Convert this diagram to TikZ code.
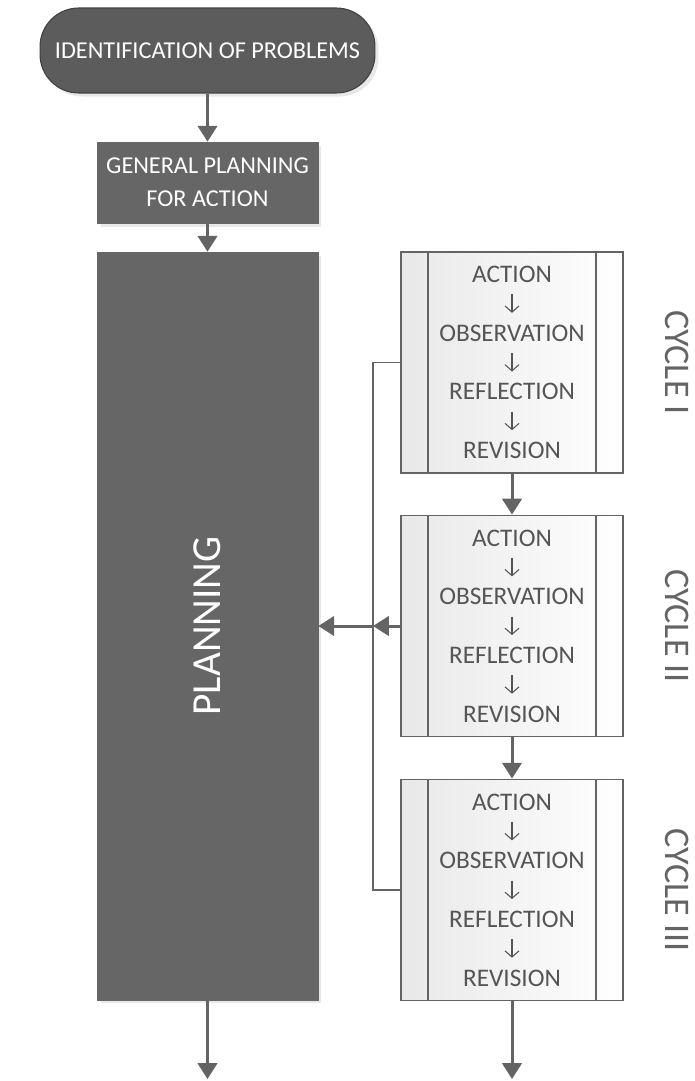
\documentclass[tikz,border=0pt]{standalone}
\usepackage{fontspec}
\setmainfont{Carlito}
\usepackage{tikz}
\usetikzlibrary{positioning,arrows.meta,shapes,calc,shadows}
\definecolor{darkbox}{RGB}{102,102,102}
\definecolor{termbox}{RGB}{92,92,92}
\definecolor{lineclr}{RGB}{100,100,100}
\definecolor{textclr}{RGB}{85,85,85}

\newcommand{\dnarrow}{\tikz[baseline=0pt]\draw[textclr,line width=0.6pt,
  -{Straight Barb[length=3.5pt,width=8pt]}] (0pt,10pt) -- (0pt,-0.5pt);}

\tikzset{
  darknode/.style={draw=darkbox,fill=darkbox,text=white,align=center,
        inner sep=0pt,drop shadow={opacity=0.18,shadow xshift=2pt,shadow yshift=-2pt}},
  cyclebox/.style={draw=lineclr,line width=1.1pt,left color=gray!18,right color=white,
        text=textclr,align=center,inner sep=0pt,minimum width=4.44cm,minimum height=4.42cm,
        font=\fontsize{14.4}{16.7}\selectfont},
  cyclelabel/.style={text=lineclr,rotate=-90,font=\fontsize{20.5}{24}\selectfont},
  flow/.style={draw=lineclr,line width=1.7pt,-{Triangle[width=11pt,length=9pt]}},
  loopline/.style={draw=lineclr,line width=1.1pt}
}

\begin{document}
\begin{tikzpicture}[x=0.02cm,y=-0.02cm]
  \useasboundingbox (0,0) rectangle (695,1081);

  % left column
  \node[darknode,draw=termbox!70!black,fill=termbox,rounded corners=22pt,line width=0.6pt,
        minimum width=6.7cm,minimum height=1.7cm,font=\fontsize{13.8}{17}\selectfont]
        (problems) at (207.5,50.5) {IDENTIFICATION OF PROBLEMS};
  \node[darknode,minimum width=4.42cm,minimum height=1.62cm,
        font=\fontsize{13.8}{19}\selectfont]
        (general) at (207.5,182.5) {GENERAL PLANNING\\FOR ACTION};
  \node[darknode,minimum width=4.42cm,minimum height=14.96cm]
        (planning) at (207.5,626) {};
  \node[text=white,rotate=90,font=\fontsize{23.5}{28}\selectfont] (planlabel) at (planning.center) {PLANNING};

  % cycles
  \foreach \cyc/\ypos/\lbl in {c1/362.5/I, c2/626/II, c3/890/III} {
    \node[cyclebox] (\cyc) at (512,\ypos)
      {ACTION\\\dnarrow\\OBSERVATION\\\dnarrow\\REFLECTION\\\dnarrow\\REVISION};
    \draw[loopline] ($(\cyc.north west)+(28,0)$) -- ($(\cyc.south west)+(28,0)$);
    \draw[loopline] ($(\cyc.north east)+(-28,0)$) -- ($(\cyc.south east)+(-28,0)$);
    \node[cyclelabel] (lbl\cyc) at (677,\ypos) {CYCLE \lbl};
  }

  \coordinate (endleft) at (207.5,1079);
  \coordinate (endright) at (512,1079);
  \coordinate (joint) at (373,626);

  % connectors
  \draw[flow] (problems) -- (general);
  \draw[flow] (general) -- (planning);
  \draw[flow] (planning) -- (endleft);
  \draw[flow] (c1) -- (c2);
  \draw[flow] (c2) -- (c3);
  \draw[flow] (c3) -- (endright);
  \draw[loopline] (c1.west) -| (joint) |- (c3.west);
  \draw[flow] (c2.west) -- (joint);
  \draw[flow] (joint) -- (planning.east);
\end{tikzpicture}
\end{document}
